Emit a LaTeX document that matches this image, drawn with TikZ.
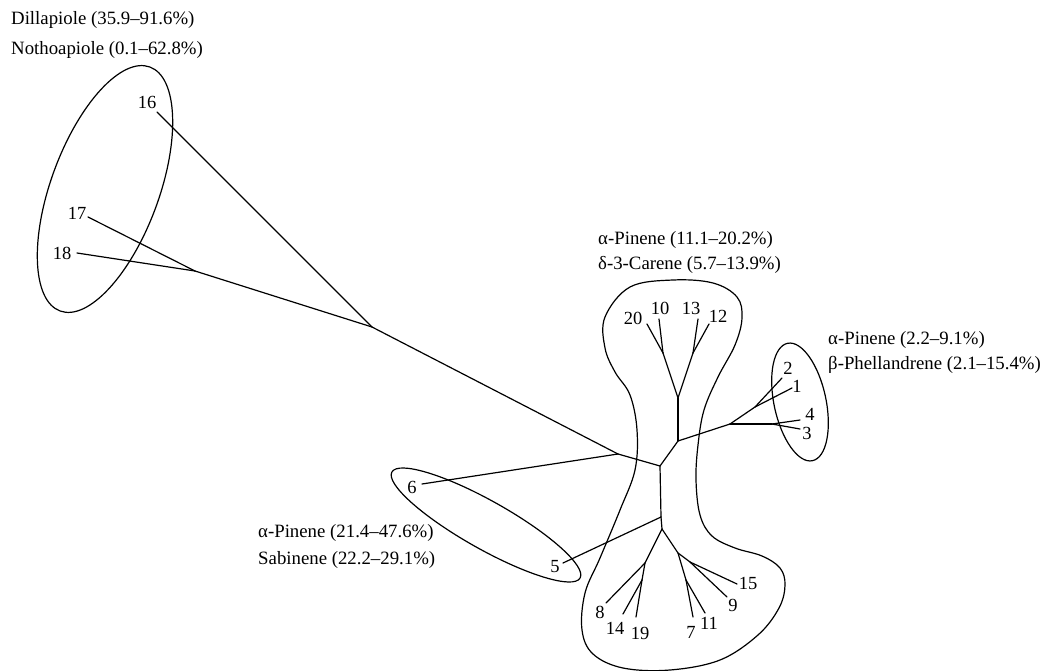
\documentclass[tikz,border=0pt]{standalone}
\usepackage{fontspec}
\setmainfont{Liberation Serif}
\begin{document}
\begin{tikzpicture}[x=1pt,y=-1pt,
  br/.style={line width=1.2pt, line cap=round},
  grp/.style={line width=1.2pt},
  lbl/.style={inner sep=0pt, font=\fontsize{18.5}{20}\selectfont},
  ann/.style={inner sep=0pt, anchor=west, font=\fontsize{18.8}{20}\selectfont}]
\useasboundingbox (0,0) rectangle (1043,671);
% ---------- internal nodes
\coordinate (n1718) at (195,271);
\coordinate (n16) at (372,327);
\coordinate (nI) at (618,454);
\coordinate (nH) at (660,466);
\coordinate (nD) at (678,441);
\coordinate (nC) at (678,398);
\coordinate (nA) at (663,353);
\coordinate (nB) at (693,353);
\coordinate (nE) at (730,424);
\coordinate (nF) at (772,424);
\coordinate (nG) at (755,407);
\coordinate (nP) at (661,517);
\coordinate (nJ) at (662,529);
\coordinate (nK) at (645,563);
\coordinate (nKb) at (642,580);
\coordinate (nL) at (678,553);
\coordinate (nM) at (690,562);
\coordinate (nN) at (686,580);
% ---------- tips
\coordinate (t16) at (157,112);
\coordinate (t17) at (88,217);
\coordinate (t18) at (77,253);
\coordinate (t20) at (647,324);
\coordinate (t10) at (659,319);
\coordinate (t13) at (698,319);
\coordinate (t12) at (709,324);
\coordinate (t2) at (782,378);
\coordinate (t1) at (792,388);
\coordinate (t4) at (800,420);
\coordinate (t3) at (800,429);
\coordinate (t6) at (422,484);
\coordinate (t5) at (563,563);
\coordinate (t8) at (606,603);
\coordinate (t14) at (623,614);
\coordinate (t19) at (636,617);
\coordinate (t7) at (693,617);
\coordinate (t11) at (705,613);
\coordinate (t9) at (727,597);
\coordinate (t15) at (737,584);
% ---------- leaf labels
\node[lbl] (l16) at (147,102) {16};
\node[lbl] (l17) at (77,213) {17};
\node[lbl] (l18) at (62,253) {18};
\node[lbl] (l20) at (633,318) {20};
\node[lbl] (l10) at (660,308) {10};
\node[lbl] (l13) at (691,308) {13};
\node[lbl] (l12) at (718,316) {12};
\node[lbl] (l2) at (788,368) {2};
\node[lbl] (l1) at (797,386) {1};
\node[lbl] (l4) at (810,414) {4};
\node[lbl] (l3) at (807,433) {3};
\node[lbl] (l6) at (412,487) {6};
\node[lbl] (l5) at (555,567) {5};
\node[lbl] (l8) at (600,612) {8};
\node[lbl] (l14) at (615,628) {14};
\node[lbl] (l19) at (640,633) {19};
\node[lbl] (l7) at (691,632) {7};
\node[lbl] (l11) at (709,623) {11};
\node[lbl] (l9) at (733,605) {9};
\node[lbl] (l15) at (748,583) {15};
% ---------- branches
\draw[br] (t16) -- (n16);
\draw[br] (t17) -- (n1718);
\draw[br] (t18) -- (n1718);
\draw[br] (n1718) -- (n16);
\draw[br] (n16) -- (nI);
\draw[br] (t6) -- (nI);
\draw[br] (nI) -- (nH);
\draw[br] (nH) -- (nD);
\draw[br] (nD) -- (nC);
\draw[br] (nC) -- (nA);
\draw[br] (nC) -- (nB);
\draw[br] (nA) -- (t20);
\draw[br] (nA) -- (t10);
\draw[br] (nB) -- (t13);
\draw[br] (nB) -- (t12);
\draw[br] (nD) -- (nE);
\draw[br] (nE) -- (nF);
\draw[br] (nF) -- (t4);
\draw[br] (nF) -- (t3);
\draw[br] (nE) -- (nG);
\draw[br] (nG) -- (t2);
\draw[br] (nG) -- (t1);
\draw[br] (nH) -- (nP);
\draw[br] (nP) -- (nJ);
\draw[br] (nP) -- (t5);
\draw[br] (nJ) -- (nK);
\draw[br] (nK) -- (t8);
\draw[br] (nK) -- (nKb);
\draw[br] (nKb) -- (t14);
\draw[br] (nKb) -- (t19);
\draw[br] (nJ) -- (nL);
\draw[br] (nL) -- (nM);
\draw[br] (nM) -- (t15);
\draw[br] (nM) -- (t9);
\draw[br] (nL) -- (nN);
\draw[br] (nN) -- (t7);
\draw[br] (nN) -- (t11);
% ---------- groups
\draw[grp, shift={(105,189)}, rotate=69.8] (0,0) ellipse [x radius=130pt, y radius=54pt];
\draw[grp, shift={(800,402)}, rotate=102] (0,0) ellipse [x radius=60pt, y radius=26pt];
\draw[grp, shift={(486,525)}, rotate=-29.4] (0,0) ellipse [x radius=108pt, y radius=24pt];
\draw[grp] plot[smooth cycle, tension=0.6] coordinates {
 (605,317) (630,287) (673,280) (713,283) (737,297) (742,318) (735,345)
 (718,377) (704,410) (698,445) (696,480) (700,515) (712,536) (735,548)
 (762,556) (780,568) (785,585) (779,608) (758,635) (720,660) (670,670)
 (623,668) (593,654) (582,630) (585,593) (600,558) (620,510) (635,470)
 (637,430) (630,395) (615,372) (605,348)};
% ---------- annotations
\node[ann] (a1) at (11,20) {Dillapiole (35.9–91.6\%)};
\node[ann] (a2) at (11,50) {Nothoapiole (0.1–62.8\%)};
\node[ann] (a3) at (598,240) {α-Pinene (11.1–20.2\%)};
\node[ann] (a4) at (598,265) {δ-3-Carene (5.7–13.9\%)};
\node[ann] (a5) at (828,340) {α-Pinene (2.2–9.1\%)};
\node[ann] (a6) at (828,365) {β-Phellandrene (2.1–15.4\%)};
\node[ann] (a7) at (258,533) {α-Pinene (21.4–47.6\%)};
\node[ann] (a8) at (258,560) {Sabinene (22.2–29.1\%)};
\end{tikzpicture}
\end{document}
